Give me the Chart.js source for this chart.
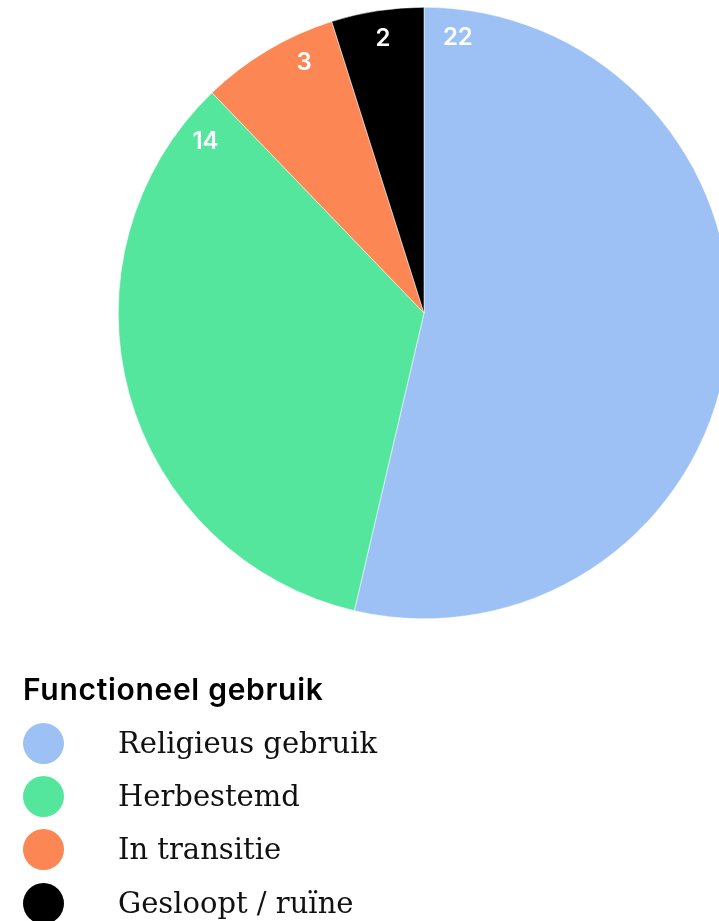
<!DOCTYPE html>
<html>
<head>
<meta charset="utf-8">
<script src="https://cdn.jsdelivr.net/npm/chart.js@4"></script>
<style>
  html, body { margin: 0; padding: 0; background: #fff; overflow: hidden; width: 719px; height: 921px; }
  #wrap { position: absolute; left: 0; top: 0; width: 848px; height: 626px; }
  #legend { position: absolute; left: 0; top: 0; width: 719px; height: 921px; }
  #legend .title { position: absolute; left: 23px; top: 674px; font-family: Inter, "Liberation Sans", sans-serif; font-weight: 600; font-size: 30px; line-height: 30px; color: #000; letter-spacing: 0.7px; white-space: nowrap; }
  #legend .item { position: absolute; left: 23px; height: 41px; display: flex; align-items: center; }
  #legend .dot { width: 41px; height: 41px; border-radius: 50%; flex: none; }
  #legend .lbl { margin-left: 54px; font-family: "DejaVu Serif", serif; font-size: 29px; line-height: 29px; color: #111; white-space: nowrap; }
</style>
</head>
<body>
<div id="wrap"><canvas id="c" width="848" height="626"></canvas></div>
<div id="legend"></div>
<script>
const legendTitle = "Functioneel gebruik";
const categories = ["Religieus gebruik", "Herbestemd", "In transitie", "Gesloopt / ruïne"];
const values = [22, 14, 3, 2];
const colors = ["#9dc1f5", "#55e69e", "#fc8654", "#000000"];

// Labels sit near the slice edge closest to the top of the pie
const labelPlugin = {
  id: 'edgeLabels',
  afterDatasetsDraw(chart) {
    const ctx = chart.ctx;
    const meta = chart.getDatasetMeta(0);
    ctx.save();
    ctx.fillStyle = '#fff';
    ctx.font = '600 24px Inter, "Liberation Sans", sans-serif';
    ctx.textAlign = 'center';
    ctx.textBaseline = 'middle';
    const top = -Math.PI / 2, full = Math.PI * 2;
    meta.data.forEach((arc, i) => {
      const p = arc.getProps(['x', 'y', 'startAngle', 'endAngle', 'outerRadius'], true);
      const s = p.startAngle - top, e = p.endAngle - top;
      const span = e - s;
      const off = Math.min(8 * Math.PI / 180, span / 2);
      let a;
      if (s < 1e-6) a = s + 7 * Math.PI / 180;
      else if (full - e < 1e-6) a = e - Math.min(8.5 * Math.PI / 180, span / 2);
      else a = (s < full - e) ? s + off : e - off;
      const ang = a + top;
      const r = p.outerRadius * 0.908;
      ctx.fillText(String(values[i]), p.x + Math.cos(ang) * r, p.y + Math.sin(ang) * r);
    });
    ctx.restore();
  }
};

new Chart(document.getElementById('c'), {
  type: 'pie',
  data: {
    labels: categories,
    datasets: [{
      data: values,
      backgroundColor: colors,
      borderColor: '#ffffff',
      borderWidth: 0.5,
      hoverOffset: 0
    }]
  },
  options: {
    responsive: false,
    animation: false,
    layout: { padding: { top: 7, bottom: 7, left: 0, right: 0 } },
    plugins: { legend: { display: false }, tooltip: { enabled: false } }
  },
  plugins: [labelPlugin]
});

// HTML legend built from the arrays
const lg = document.getElementById('legend');
const t = document.createElement('div');
t.className = 'title';
t.textContent = legendTitle;
lg.appendChild(t);
categories.forEach((c, i) => {
  const it = document.createElement('div'); it.className = 'item';
  it.style.top = (722.5 + i * 53.4) + 'px';
  const d = document.createElement('div'); d.className = 'dot'; d.style.background = colors[i];
  const l = document.createElement('div'); l.className = 'lbl'; l.textContent = c;
  it.appendChild(d); it.appendChild(l); lg.appendChild(it);
});
</script>
</body>
</html>
